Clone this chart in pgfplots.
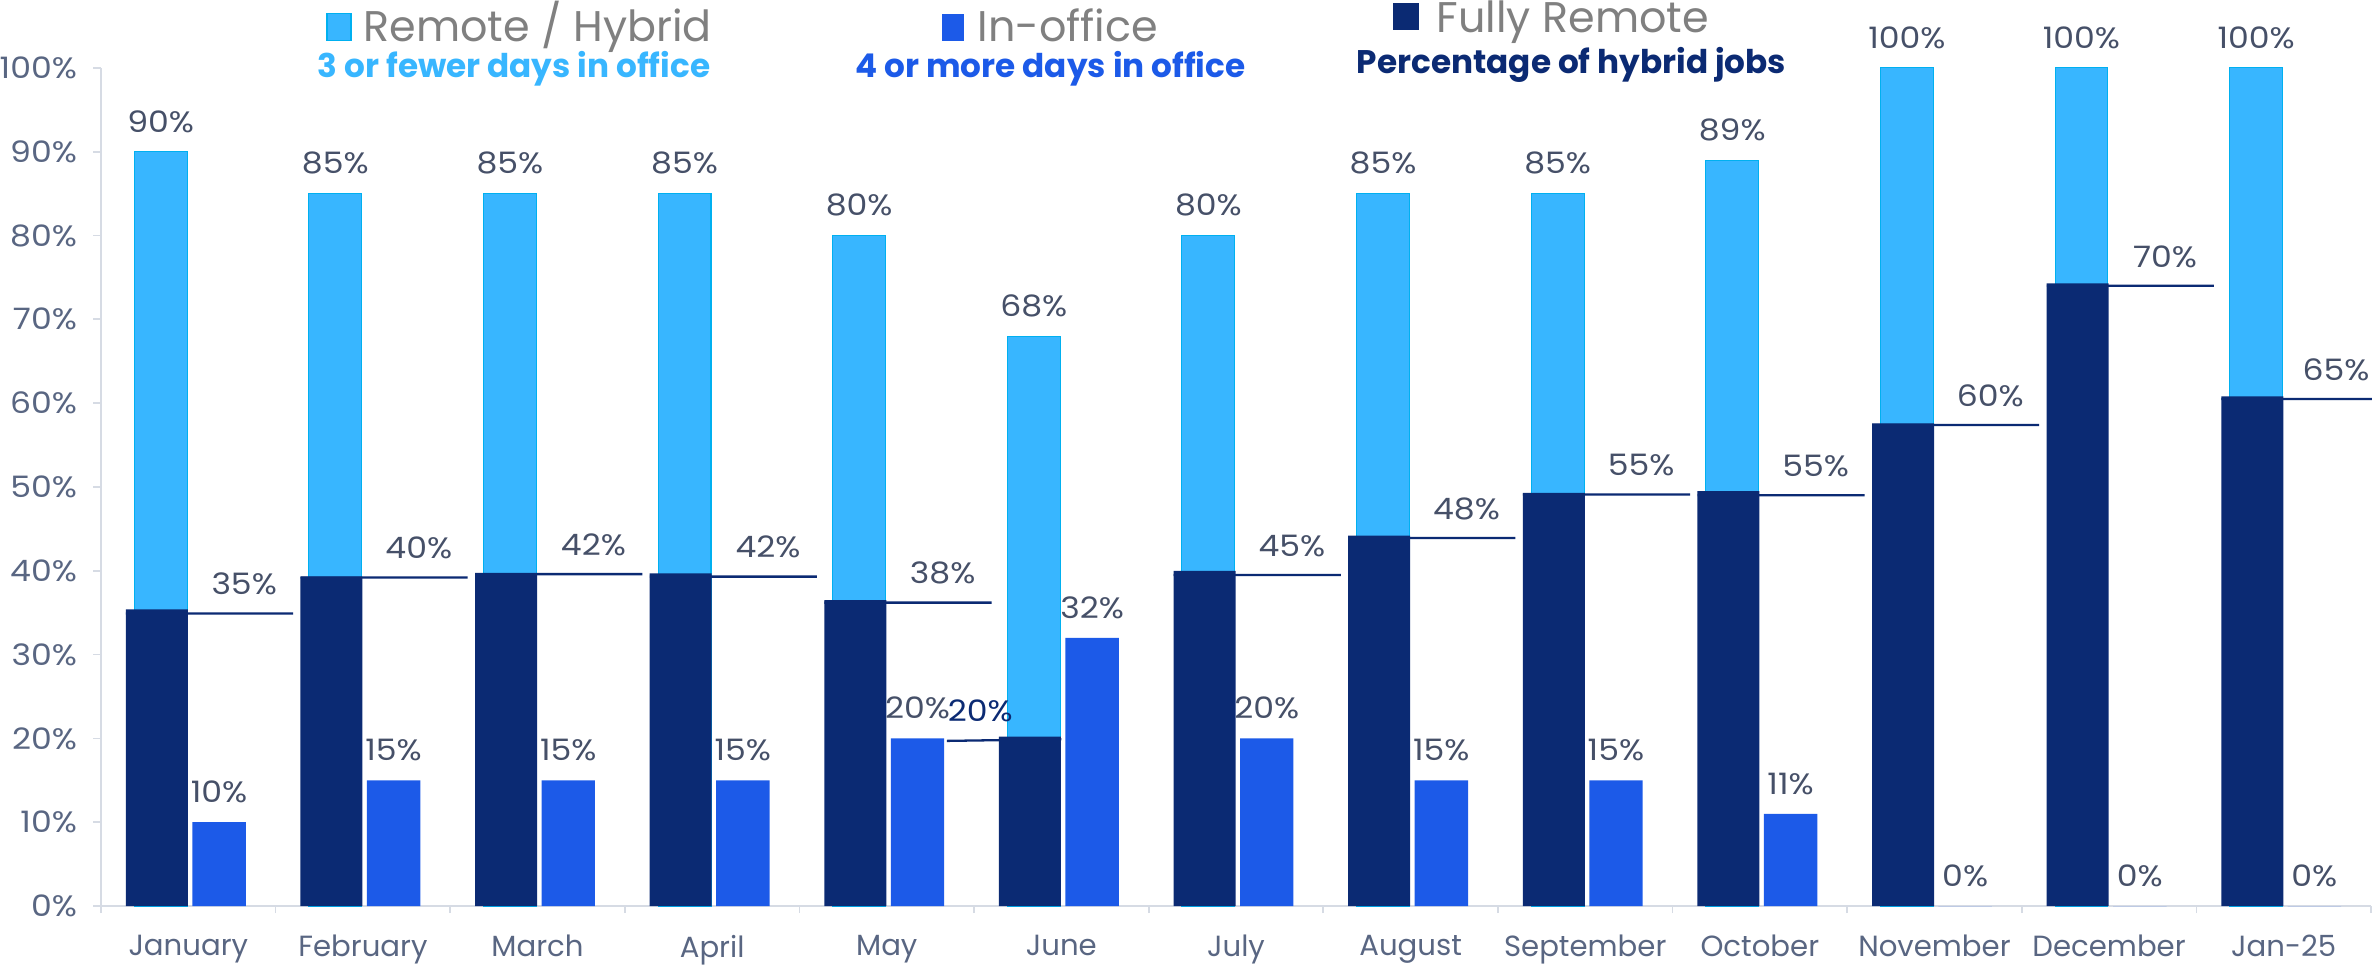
\documentclass[border=0pt]{standalone}
\usepackage{fontspec}
\setmainfont{Poppins}
\newfontfamily\numfont{Poppins}[FakeStretch=1.12]
\usepackage{pgfplots}
\pgfplotsset{compat=1.18}
\definecolor{lb}{RGB}{56,182,255}
\definecolor{lbedge}{RGB}{0,176,240}
\definecolor{io}{RGB}{28,90,232}
\definecolor{navy}{RGB}{11,42,115}
\definecolor{lab}{RGB}{70,80,104}
\definecolor{tickc}{RGB}{89,102,130}
\definecolor{leg}{RGB}{128,128,128}
\definecolor{axc}{RGB}{214,219,228}
\newcommand{\lblfont}{\numfont\fontsize{8.4}{10}\selectfont}
\newcommand{\xlblfont}{\fontsize{8.3}{10}\selectfont}
\begin{document}
\begin{tikzpicture}
\path[use as bounding box] (-10.1mm,-6mm) rectangle (227.1mm,90.6mm);
\begin{axis}[
  at={(0,0)}, anchor=south west,
  scale only axis, width=227mm, height=83.81mm,
  xmin=-0.5, xmax=12.5, ymin=0, ymax=100,
  clip=false,
  axis x line*=bottom, axis y line*=left,
  x axis line style={draw=axc, line width=0.5pt},
  y axis line style={draw=axc, line width=0.5pt},
  xtick={0,...,12},
  xticklabels={January,February,March,April,May,June,July,August,September,October,November,December,Jan-25},
  major x tick style={draw=none},
  minor xtick={-0.5,0.5,...,12.5},
  minor x tick style={draw=axc, line width=0.5pt},
  minor tick length=0.7mm,
  ytick={0,10,...,100},
  yticklabel={\pgfmathprintnumber{\tick}\%},
  major y tick style={draw=axc, line width=0.5pt},
  major tick length=0.77mm,
  tick align=outside,
  /pgf/number format/assume math mode=true,
  xticklabel style={font=\xlblfont, text=tickc, yshift=-0.9mm},
  yticklabel style={font=\lblfont, text=tickc, xshift=-0.4mm},
]
% Remote / Hybrid
\addplot[ybar, bar width=0.303, bar shift=-0.158, fill=lb, draw=lbedge, line width=0.3pt,
  nodes near coords={\pgfmathprintnumber{\pgfplotspointmeta}\%},
  every node near coord/.append style={font=\lblfont, text=lab, yshift=0.7mm, xshift=-2.76mm}]
  coordinates {(0,90) (1,85) (2,85) (3,85) (4,80) (5,68) (6,80) (7,85) (8,85) (9,89) (10,100) (11,100) (12,100)};
% Percentage of hybrid jobs line
\addplot[navy, line width=0.65pt, unbounded coords=jump]
  coordinates {(-0.357,34.9) (0.6,34.9) (0.6,nan)
  (0.643,39.2) (1.6,39.2) (1.6,nan)
  (1.643,39.6) (2.6,39.6) (2.6,nan)
  (2.643,39.3) (3.6,39.3) (3.6,nan)
  (3.643,36.2) (4.6,36.2) (4.6,nan)
  (4.344,19.7) (5.0,19.9) (5.0,nan)
  (5.643,39.5) (6.6,39.5) (6.6,nan)
  (6.643,43.9) (7.6,43.9) (7.6,nan)
  (7.643,49.1) (8.6,49.1) (8.6,nan)
  (8.643,49.0) (9.6,49.0) (9.6,nan)
  (9.643,57.4) (10.6,57.4) (10.6,nan)
  (10.643,74.0) (11.6,74.0) (11.6,nan)
  (11.643,60.5) (12.6,60.5)};
% Fully Remote
\addplot[ybar, bar width=0.355, bar shift=-0.18, fill=navy, draw=none]
  coordinates {(0,35.4) (1,39.3) (2,39.7) (3,39.7) (4,36.5) (5,20.2) (6,40.0) (7,44.2) (8,49.3) (9,49.5) (10,57.6) (11,74.3) (12,60.8)};
% In-office
\addplot[ybar, bar width=0.306, bar shift=0.176, fill=io, draw=none,
  nodes near coords={\pgfmathprintnumber{\pgfplotspointmeta}\%},
  every node near coord/.append style={font=\lblfont, text=lab, yshift=0.7mm, xshift=3.07mm}]
  coordinates {(0,10) (1,15) (2,15) (3,15) (4,20) (5,32) (6,20) (7,15) (8,15) (9,11) (10,0) (11,0) (12,0)};
% line labels
\addplot[draw=none, nodes near coords, point meta=explicit symbolic,
  every node near coord/.append style={font=\lblfont, text=lab, yshift=0.6mm}]
  coordinates {(0.32,34.9) [35\%] (1.32,39.2) [40\%] (2.32,39.6) [42\%] (3.32,39.3) [42\%]
  (4.32,36.2) [38\%] (6.32,39.5) [45\%] (7.32,43.9) [48\%] (8.32,49.1) [55\%]
  (9.32,49.0) [55\%] (10.32,57.4) [60\%] (11.32,74.0) [70\%] (12.3,60.5) [65\%]};
\addplot[draw=none, nodes near coords, point meta=explicit symbolic,
  every node near coord/.append style={font=\lblfont, text=navy, yshift=0.6mm}]
  coordinates {(4.535,19.8) [20\%]};
\end{axis}
% legend
\fill[lb, draw=lbedge, line width=0.3pt] (22.6mm,86.52mm) rectangle (25.0mm,89.24mm);
\fill[io] (84.1mm,86.52mm) rectangle (86.3mm,89.24mm);
\fill[navy] (129.2mm,87.6mm) rectangle (131.8mm,90.3mm);
\node[anchor=base west, inner sep=0, text=leg, font=\fontsize{12.2}{14}\selectfont] at (26.2mm,86.4mm) {Remote / Hybrid};
\node[anchor=base west, inner sep=0, text=leg, font=\fontsize{12.2}{14}\selectfont] at (87.6mm,86.4mm) {In-office};
\node[anchor=base west, inner sep=0, text=leg, font=\fontsize{12.2}{14}\selectfont] at (133.5mm,87.3mm) {Fully Remote};
\node[anchor=base east, inner sep=0, text=lb, font=\bfseries\fontsize{9.3}{11}\selectfont] at (61.0mm,82.8mm) {3 or fewer days in office};
\node[anchor=base, inner sep=0, text=io, font=\bfseries\fontsize{9.3}{11}\selectfont] at (94.95mm,82.8mm) {4 or more days in office};
\node[anchor=base, inner sep=0, text=navy, font=\bfseries\fontsize{9.3}{11}\selectfont] at (147.05mm,83.2mm) {Percentage of hybrid jobs};
\end{tikzpicture}
\end{document}
